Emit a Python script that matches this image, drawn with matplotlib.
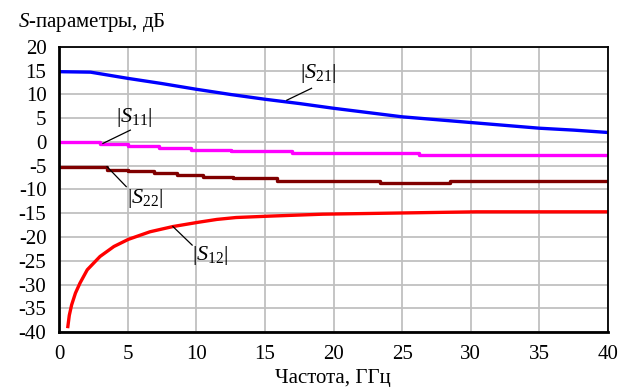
import matplotlib
matplotlib.use("Agg")
from matplotlib import pyplot as plt

plt.rcParams['font.family'] = 'Liberation Serif'
plt.rcParams['mathtext.fontset'] = 'custom'
plt.rcParams['mathtext.rm'] = 'Liberation Serif'
plt.rcParams['mathtext.it'] = 'Liberation Serif:italic'
plt.rcParams['axes.unicode_minus'] = False

# |S21|, dB
f21 = [0, 2.3, 5, 7.5, 10, 12.5, 15, 17.5, 20, 22.5, 25, 27.5, 30, 32.5, 35, 37.5, 40]
s21 = [14.8, 14.7, 13.4, 12.3, 11.1, 10.0, 9.0, 8.1, 7.1, 6.2, 5.3, 4.7, 4.1, 3.5, 2.9, 2.5, 2.0]

# |S11|, dB (stepped)
f11 = [0, 3.0, 5.0, 7.3, 9.6, 12.5, 17.0, 26.2, 40]
s11 = [0.0, -0.4, -0.8, -1.2, -1.6, -1.9, -2.4, -2.8, -2.8]

# |S22|, dB (stepped)
f22 = [0, 3.5, 5.0, 6.9, 8.6, 10.5, 12.7, 15.9, 23.4, 28.5, 40]
s22 = [-5.2, -5.9, -6.1, -6.5, -6.9, -7.3, -7.6, -8.2, -8.6, -8.2, -8.2]

# |S12|, dB
f12 = [0.63, 0.75, 0.92, 1.2, 1.53, 2.06, 2.99, 4.0, 5.05, 6.63, 8.3, 10.15, 11.5, 12.9, 15.4, 19.2, 30.4, 40]
s12 = [-39.2, -36.5, -34.3, -31.8, -29.7, -26.9, -24.1, -22.0, -20.5, -18.9, -17.8, -16.9, -16.3, -15.9, -15.6, -15.2, -14.7, -14.7]

fig = plt.figure(figsize=(6.35, 3.87), dpi=100)
ax = fig.add_axes([0.0929, 0.1421, 0.8646, 0.7365])

ax.plot(f21, s21, color='#0000ff', lw=2.4, solid_capstyle='butt')
ax.step(f11, s11, where='post', color='#ff00ff', lw=2.4)
ax.step(f22, s22, where='post', color='#800000', lw=2.4)
ax.plot(f12, s12, color='#ff0000', lw=2.4, solid_capstyle='butt')

ax.set_xlim(0, 40)
ax.set_ylim(-40, 20)
ax.set_xticks(range(0, 41, 5))
ax.set_yticks(range(-40, 21, 5))
ax.grid(True, color='#c0c0c0', lw=1.3)
ax.set_axisbelow(True)
ax.tick_params(length=0, labelsize=15)
ax.tick_params(axis='x', pad=9)
ax.tick_params(axis='y', pad=9)

for side in ['top', 'right']:
    ax.spines[side].set_linewidth(1.3)
for side in ['left', 'bottom']:
    ax.spines[side].set_linewidth(2.0)

fig.text(0.524, 0.023, 'Частота, ГГц', fontsize=15, ha='center', va='center')
fig.text(0.028, 0.943, r'$\mathit{S}$-параметры, дБ', fontsize=15, ha='left', va='center')

# curve labels with leader lines
labels = [
    (r'$|\mathit{S}_{\mathrm{21}}|$', (16.6, 8.8), (18.4, 11.3), (18.9, 14.5)),
    (r'$|\mathit{S}_{\mathrm{11}}|$', (3.2, -0.3), (5.2, 2.5), (5.5, 5.2)),
    (r'$|\mathit{S}_{\mathrm{22}}|$', (3.5, -5.2), (4.9, -9.4), (6.3, -11.8)),
    (r'$|\mathit{S}_{\mathrm{12}}|$', (8.3, -17.8), (9.7, -21.7), (11.0, -23.9)),
]
for txt, pt, end, pos in labels:
    ax.plot([pt[0], end[0]], [pt[1], end[1]], color='black', lw=0.9)
    ax.text(pos[0], pos[1], txt, fontsize=16, ha='center', va='center')

fig.savefig('out.png', dpi=100)
